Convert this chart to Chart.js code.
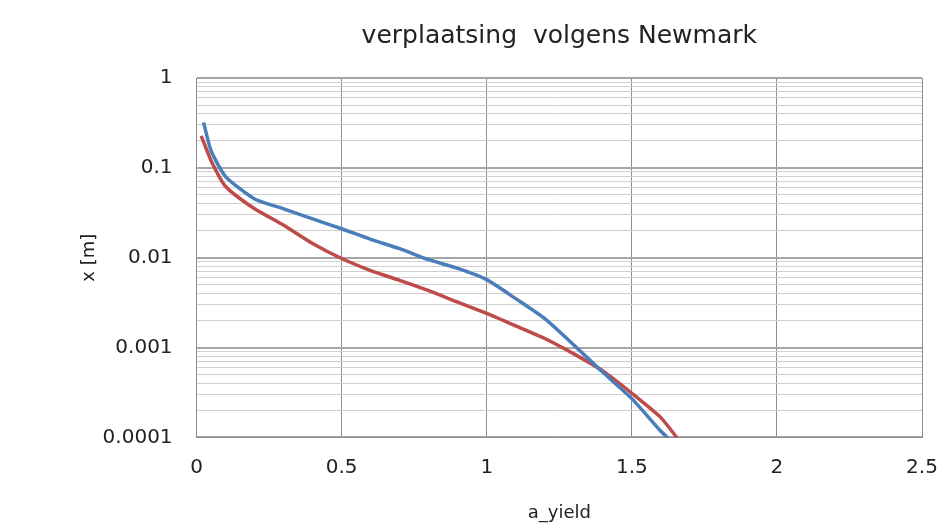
<!DOCTYPE html>
<html><head><meta charset="utf-8">
<script src="https://cdn.jsdelivr.net/npm/chart.js@4"></script>
<style>html,body{margin:0;padding:0;background:#fff}#wrap{width:948px;height:529px}</style>
</head><body><div id="wrap"><canvas id="c" width="948" height="529"></canvas></div>
<script>
const blueX = [0.024, 0.05, 0.1, 0.2, 0.3, 0.4, 0.5, 0.6, 0.7, 0.8, 0.9, 1.0, 1.1, 1.2, 1.3, 1.4, 1.5, 1.6, 1.63];
const blueY = [0.32, 0.155, 0.08, 0.045, 0.035, 0.027, 0.021, 0.016, 0.0126, 0.0095, 0.0076, 0.0057, 0.0035, 0.0021, 0.00107, 0.00053, 0.00027, 0.000117, 0.000095];
const redX = [0.016, 0.05, 0.1, 0.2, 0.3, 0.4, 0.5, 0.6, 0.7, 0.8, 0.9, 1.0, 1.1, 1.2, 1.3, 1.4, 1.5, 1.6, 1.66];
const redY = [0.227, 0.12, 0.062, 0.035, 0.023, 0.0144, 0.0098, 0.0072, 0.0056, 0.0043, 0.0032, 0.0024, 0.00174, 0.00126, 0.00085, 0.00055, 0.00031, 0.000166, 0.000095];
const yTickLabels = ['0.0001', '0.001', '0.01', '0.1', '1'];
const xTickLabels = ['0', '0.5', '1', '1.5', '2', '2.5'];

const toPts = (xs, ys) => xs.map((x, i) => ({x: x, y: ys[i]}));
const font = "'DejaVu Sans', 'Open Sans', sans-serif";

new Chart(document.getElementById('c'), {
  type: 'line',
  data: {
    datasets: [
      {label: 'blue', data: toPts(blueX, blueY), borderColor: '#4A7EBB', borderWidth: 3.5, pointRadius: 0, tension: 0.2},
      {label: 'red', data: toPts(redX, redY), borderColor: '#BE4B48', borderWidth: 3.5, pointRadius: 0, tension: 0.2}
    ]
  },
  options: {
    responsive: false,
    animation: false,
    layout: {padding: {left: 79, right: 0, top: 8, bottom: 1}},
    plugins: {
      legend: {display: false},
      tooltip: {enabled: false},
      title: {display: true, fullSize: false, text: 'verplaatsing  volgens Newmark', color: '#222', font: {family: font, size: 25, weight: 'normal'}, padding: {top: 13, bottom: 27}}
    },
    scales: {
      x: {
        type: 'linear', min: 0, max: 2.5,
        afterBuildTicks: s => { s.ticks = xTickLabels.map(v => ({value: parseFloat(v)})); },
        afterFit: s => { s.paddingRight = 26; },
        ticks: {callback: (v, i) => xTickLabels[i], color: '#222', font: {family: font, size: 20}, padding: 18, maxRotation: 0},
        grid: {color: '#8c8c8c', lineWidth: 1, drawTicks: false},
        border: {color: '#8c8c8c'},
        title: {display: true, text: 'a_yield', color: '#222', font: {family: font, size: 18}, padding: {top: 5}}
      },
      y: {
        type: 'logarithmic', min: 0.0001, max: 1,
        afterBuildTicks: s => {
          const t = [];
          for (let e = -4; e < 0; e++) for (let m = 1; m < 10; m++) t.push({value: m * Math.pow(10, e)});
          t.push({value: 1});
          s.ticks = t;
        },
        ticks: {
          autoSkip: false, color: '#222', font: {family: font, size: 20}, padding: 24,
          callback: function(v, i) { const k = Math.round(Math.log10(v)); return Math.abs(Math.log10(v) - k) < 1e-9 ? yTickLabels[k + 4] : ''; }
        },
        grid: {
          drawTicks: false,
          color: c => { const v = c.tick.value; const k = Math.log10(v); return Math.abs(k - Math.round(k)) < 1e-9 ? '#a6a6a6' : '#cfcfcf'; },
          lineWidth: c => { const v = c.tick.value; const k = Math.log10(v); return Math.abs(k - Math.round(k)) < 1e-9 ? 2 : 1; }
        },
        border: {color: '#8c8c8c'},
        title: {display: true, text: 'x [m]', color: '#222', font: {family: font, size: 18}, padding: {top: 0, bottom: -22}}
      }
    }
  }
});
</script></body></html>
